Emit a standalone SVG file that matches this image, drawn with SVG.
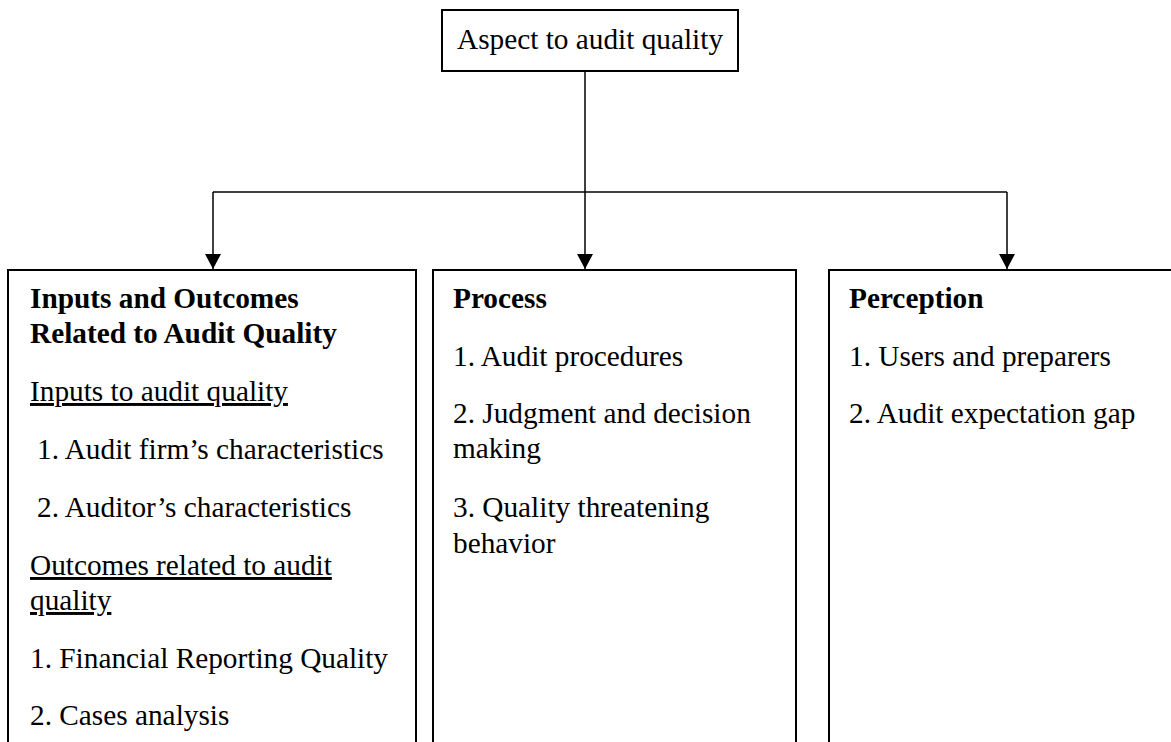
<svg xmlns="http://www.w3.org/2000/svg" width="1171" height="742" viewBox="0 0 1171 742">
<style>
.box{fill:#fff;stroke:#000;stroke-width:2}
.t{font-family:"Liberation Serif","Times New Roman",serif;font-size:29.3px;fill:#000}
.b{font-weight:bold}
.u{text-decoration:underline}
.c{fill:none;stroke:#000;stroke-width:1.5}
</style>
<defs>
<marker id="ah" markerWidth="16" markerHeight="16" refX="15" refY="8" orient="auto" markerUnits="userSpaceOnUse">
<path d="M0,0 L15,8 L0,16 Z" fill="#000"/>
</marker>
</defs>
<rect width="1171" height="742" fill="#fff"/>
<g id="connectors">
<line class="c" x1="585" y1="71" x2="585" y2="192"/>
<line class="c" x1="213" y1="192" x2="1007" y2="192"/>
<line class="c" x1="213" y1="192" x2="213" y2="269" marker-end="url(#ah)"/>
<line class="c" x1="585" y1="192" x2="585" y2="269" marker-end="url(#ah)"/>
<line class="c" x1="1007" y1="192" x2="1007" y2="269" marker-end="url(#ah)"/>
</g>
<g id="top">
<rect class="box" x="442" y="10" width="296" height="61"/>
<text class="t" x="590" y="49" text-anchor="middle">Aspect to audit quality</text>
</g>
<g id="inputs">
<rect class="box" x="8" y="270" width="408" height="480"/>
<text class="t b" x="30" y="308">Inputs and Outcomes</text>
<text class="t b" x="30" y="343">Related to Audit Quality</text>
<text class="t u" x="30" y="401">Inputs to audit quality</text>
<text class="t" x="37" y="459">1. Audit firm’s characteristics</text>
<text class="t" x="37" y="517">2. Auditor’s characteristics</text>
<text class="t u" x="30" y="575">Outcomes related to audit</text>
<text class="t u" x="30" y="610">quality</text>
<text class="t" x="30" y="668">1. Financial Reporting Quality</text>
<text class="t" x="30" y="725">2. Cases analysis</text>
</g>
<g id="process">
<rect class="box" x="433" y="270" width="363" height="480"/>
<text class="t b" x="453" y="308">Process</text>
<text class="t" x="453" y="366">1. Audit procedures</text>
<text class="t" x="453" y="423">2. Judgment and decision</text>
<text class="t" x="453" y="458">making</text>
<text class="t" x="453" y="517">3. Quality threatening</text>
<text class="t" x="453" y="553">behavior</text>
</g>
<g id="perception">
<rect class="box" x="829" y="270" width="345" height="480"/>
<text class="t b" x="849" y="308">Perception</text>
<text class="t" x="849" y="366">1. Users and preparers</text>
<text class="t" x="849" y="423">2. Audit expectation gap</text>
</g>
</svg>
